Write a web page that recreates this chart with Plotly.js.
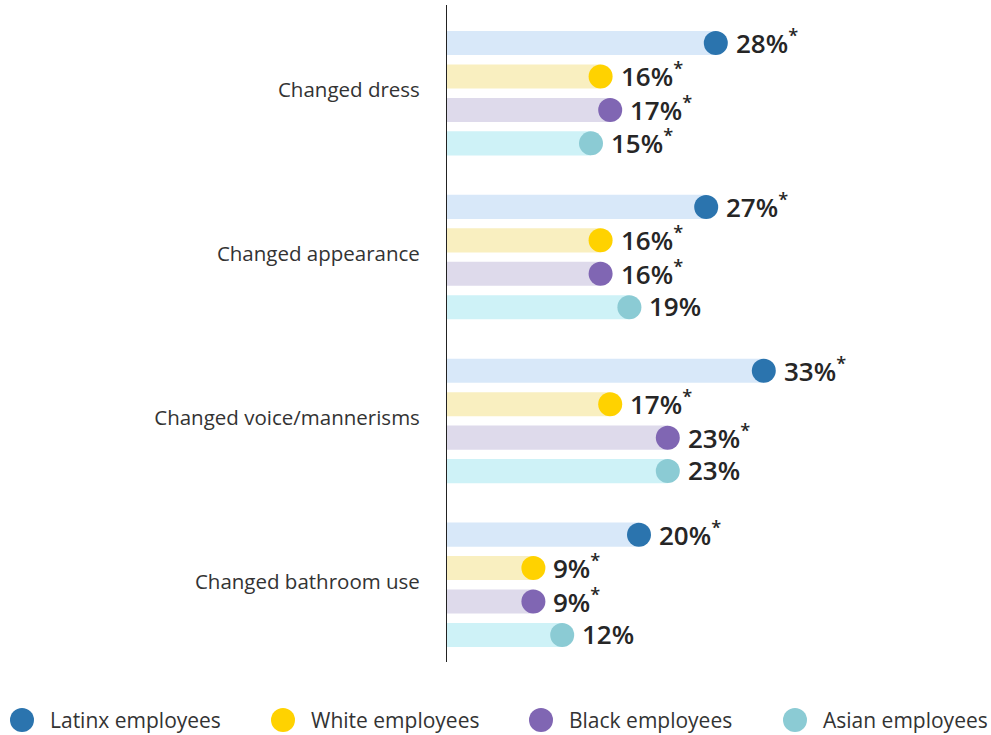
<!DOCTYPE html>
<html>
<head>
<meta charset="utf-8">
<script src="https://cdn.plot.ly/plotly-3.0.1.min.js"></script>
<style>html,body{margin:0;padding:0;background:#fff;}#chart{width:991px;height:735px;}</style>
</head>
<body>
<div id="chart"></div>
<script>
const categories = ["Changed dress", "Changed appearance", "Changed voice/mannerisms", "Changed bathroom use"];
const seriesNames = ["Latinx employees", "White employees", "Black employees", "Asian employees"];
const latinx = [28, 27, 33, 20];
const white = [16, 16, 17, 9];
const black = [17, 16, 23, 9];
const asian = [15, 19, 23, 12];
const latinxSig = [true, true, true, true];
const whiteSig = [true, true, true, true];
const blackSig = [true, true, true, true];
const asianSig = [true, false, false, false];

const dotColors = ["#2b74ae", "#ffd200", "#8066b3", "#8bcbd4"];
const barColors = ["#d8e8f9", "#f9efc0", "#dedaeb", "#cef2f7"];
const textColor = "#262626";
const FONT = "Open Sans, Noto Sans, sans-serif";

const allValues = [latinx, white, black, asian];
const allSig = [latinxSig, whiteSig, blackSig, asianSig];

const GROUP_STEP = 4.9;
const pos = (g, s) => g * GROUP_STEP + s;

const traces = [];
const annotations = [];
const shapes = [];

allValues.forEach((vals, s) => {
  const ys = vals.map((v, g) => pos(g, s));
  traces.push({
    type: "bar", orientation: "h", x: vals, y: ys, width: 0.72,
    marker: {color: barColors[s], line: {width: 0}},
    hoverinfo: "skip", showlegend: false
  });
});
allValues.forEach((vals, s) => {
  const ys = vals.map((v, g) => pos(g, s));
  traces.push({
    type: "scatter", mode: "markers", x: vals, y: ys, name: seriesNames[s],
    marker: {size: 24, color: dotColors[s], line: {width: 0}},
    cliponaxis: false, showlegend: false
  });
  vals.forEach((v, g) => {
    annotations.push({
      x: v, y: pos(g, s), xref: "x", yref: "y",
      xanchor: "left", yanchor: "middle", xshift: 18, yshift: 1,
      showarrow: false,
      text: v + "%" + (allSig[s][g] ? "<sup>*</sup>" : ""),
      font: {family: FONT, size: 26, weight: 600, color: textColor}
    });
  });
});

// Manual legend (pixel positions converted to paper coords)
const L = 447, R = 6, T = 5, B = 73, W = 991, H = 735;
const pw = W - L - R, ph = H - T - B;
const px2x = p => (p - L) / pw;
const py2y = p => (H - B - p) / ph;
const legendX = [22, 283, 541, 795];
const legendY = 720;
seriesNames.forEach((name, s) => {
  shapes.push({
    type: "circle", xref: "paper", yref: "paper",
    xsizemode: "pixel", ysizemode: "pixel",
    xanchor: px2x(legendX[s]), yanchor: py2y(legendY),
    x0: -12, x1: 12, y0: -12, y1: 12,
    fillcolor: dotColors[s], line: {width: 0}
  });
  annotations.push({
    x: px2x(legendX[s] + 26), y: py2y(legendY), xref: "paper", yref: "paper",
    xanchor: "left", yanchor: "middle", showarrow: false,
    text: name, font: {family: FONT, size: 21, color: "#333"}
  });
});

const tickvals = categories.map((c, g) => pos(g, 1.4));

const layout = {
  width: W, height: H,
  margin: {l: L, r: R, t: T, b: B, pad: 0},
  paper_bgcolor: "#fff", plot_bgcolor: "#fff",
  showlegend: false,
  barmode: "overlay",
  xaxis: {range: [0, pw / 9.6], visible: false, fixedrange: true},
  yaxis: {
    range: [pos(3, 3) + (662 - 635) / 33.4, -(43 - T) / 33.4],
    tickvals: tickvals, ticktext: categories,
    showline: true, linecolor: "#222", linewidth: 1,
    showgrid: false, zeroline: false, ticks: "",
    ticklabelstandoff: 22,
    tickfont: {family: FONT, size: 20.5, color: "#333"},
    fixedrange: true
  },
  annotations: annotations,
  shapes: shapes
};

Plotly.newPlot("chart", traces, layout, {displayModeBar: false, staticPlot: true});
</script>
</body>
</html>
